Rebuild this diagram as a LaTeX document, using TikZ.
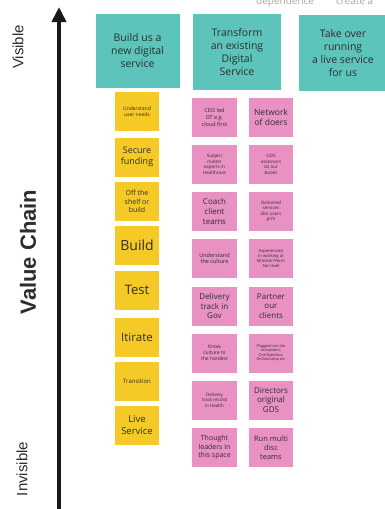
\documentclass[tikz,border=0pt]{standalone}
\usepackage{fontspec}
\setmainfont{Open Sans}
\newfontfamily\axisfont{Liberation Sans}
\usetikzlibrary{arrows.meta}
\definecolor{tealc}{HTML}{5CC4BA}
\definecolor{yelc}{HTML}{F6CA26}
\definecolor{pinkc}{HTML}{E891C2}
\definecolor{txtc}{HTML}{2E2E2E}
\newcommand{\fs}[1]{\fontsize{#1pt}{\dimexpr #1pt*122/100\relax}\selectfont}
\tikzset{
  sticky/.style={inner sep=0pt, align=center, text=txtc},
  tealbox/.style={sticky, fill=tealc, minimum width=86pt, minimum height=75pt, font=\fontsize{10.5}{13}\selectfont},
  yelbox/.style={sticky, fill=yelc, minimum width=44pt, minimum height=39pt},
  pinkbox/.style={sticky, fill=pinkc, minimum width=45pt, minimum height=39pt},
  sidelabel/.style={text=txtc, rotate=90, inner sep=0pt}
}
\begin{document}
\begin{tikzpicture}[x=1pt,y=-1pt]
\useasboundingbox (0,0) rectangle (385,509);
\clip (0,0) rectangle (385,509);
% cut-off heading text at top
\node[anchor=base west, text=gray!70, inner sep=0pt, font=\fontsize{10}{12}\selectfont] (top) at (256,4) {dependence\hspace{22pt}create a};
% axis
\coordinate (abot) at (59,512);
\coordinate (atop) at (59,7);
\draw[line width=4.5pt, black!90, -{Triangle[length=15pt,width=14pt]}] (abot) -- (atop);
\node[sidelabel, font=\axisfont\fontsize{15}{15}\selectfont] (vis) at (18,47) {Visible};
\node[sidelabel, font=\axisfont\bfseries\fontsize{22}{22}\selectfont] (vc) at (28,252) {Value Chain};
\node[sidelabel, font=\axisfont\fontsize{15}{15}\selectfont] (invis) at (22,469) {Invisible};
% teal headers
\node[tealbox, minimum width=84pt, minimum height=74pt] (t1) at (137.5,51) {Build us a\\new digital\\service};
\node[tealbox, minimum width=88pt, minimum height=76pt] (t2) at (237,52) {Transform\\an existing\\Digital\\Service};
\node[tealbox, minimum width=88pt, minimum height=76pt] (t3) at (343,53) {Take over\\running\\a live service\\for us};
% yellow column
\node[yelbox, font=\fs{5}] (y1) at (137,111.5) {Understand\\user needs};
\node[yelbox, font=\fs{9}] (y2) at (137,157) {Secure\\funding};
\node[yelbox, font=\fs{7}] (y3) at (137,201.5) {Off the\\shelf or\\build};
\node[yelbox, font=\fs{14}] (y4) at (137,245) {Build};
\node[yelbox, font=\fs{13}] (y5) at (137,290) {Test};
\node[yelbox, font=\fs{11.5}] (y6) at (137,337) {Itirate};
\node[yelbox, font=\fs{6}] (y7) at (137,381) {Transition};
\node[yelbox, font=\fs{9.5}] (y8) at (137,425) {Live\\Service};
% pink column 1
\node[pinkbox, font=\fs{5.5}] (p11) at (214.5,117.5) {CEO led\\DT e.g.\\cloud first};
\node[pinkbox, font=\fs{4.5}] (p12) at (214.5,164.5) {Subject\\matter\\experts in\\Healthcare};
\node[pinkbox, font=\fs{8}] (p13) at (214.5,211.5) {Coach\\client\\teams};
\node[pinkbox, font=\fs{5.5}] (p14) at (214.5,258.5) {Understand\\the culture};
\node[pinkbox, font=\fs{8}] (p15) at (214.5,306) {Delivery\\track in\\Gov};
\node[pinkbox, font=\fs{5}] (p16) at (214.5,353) {Know\\culture to\\the hardest};
\node[pinkbox, font=\fs{4.5}] (p17) at (214.5,400) {Delivery\\track record\\in Health};
\node[pinkbox, font=\fs{7}] (p18) at (214.5,447.5) {Thought\\leaders in\\this space};
% pink column 2
\node[pinkbox, minimum width=44pt, font=\fs{8.5}] (p21) at (271,117.5) {Network\\of doers};
\node[pinkbox, minimum width=44pt, font=\fs{4.5}] (p22) at (271,164.5) {GDS\\assessors\\on our\\books};
\node[pinkbox, minimum width=44pt, font=\fs{4.5}] (p23) at (271,211.5) {Delivered\\services\\5bn users\\p/m};
\node[pinkbox, minimum width=44pt, font=\fs{4.2}] (p24) at (271,258.5) {Experienced\\in working at\\Minister/Perm\\Sec level};
\node[pinkbox, minimum width=44pt, font=\fs{8}] (p25) at (271,306) {Partner\\our\\clients};
\node[pinkbox, minimum width=44pt, font=\fs{3.8}] (p26) at (271,353) {Plugged into the\\ecosystem;\\OneTeamGov,\\UKGovCamp etc};
\node[pinkbox, minimum width=44pt, font=\fs{8}] (p27) at (271,400) {Directors\\original\\GDS};
\node[pinkbox, minimum width=44pt, font=\fs{7.5}] (p28) at (271,447.5) {Run multi\\disc\\teams};
\end{tikzpicture}
\end{document}
